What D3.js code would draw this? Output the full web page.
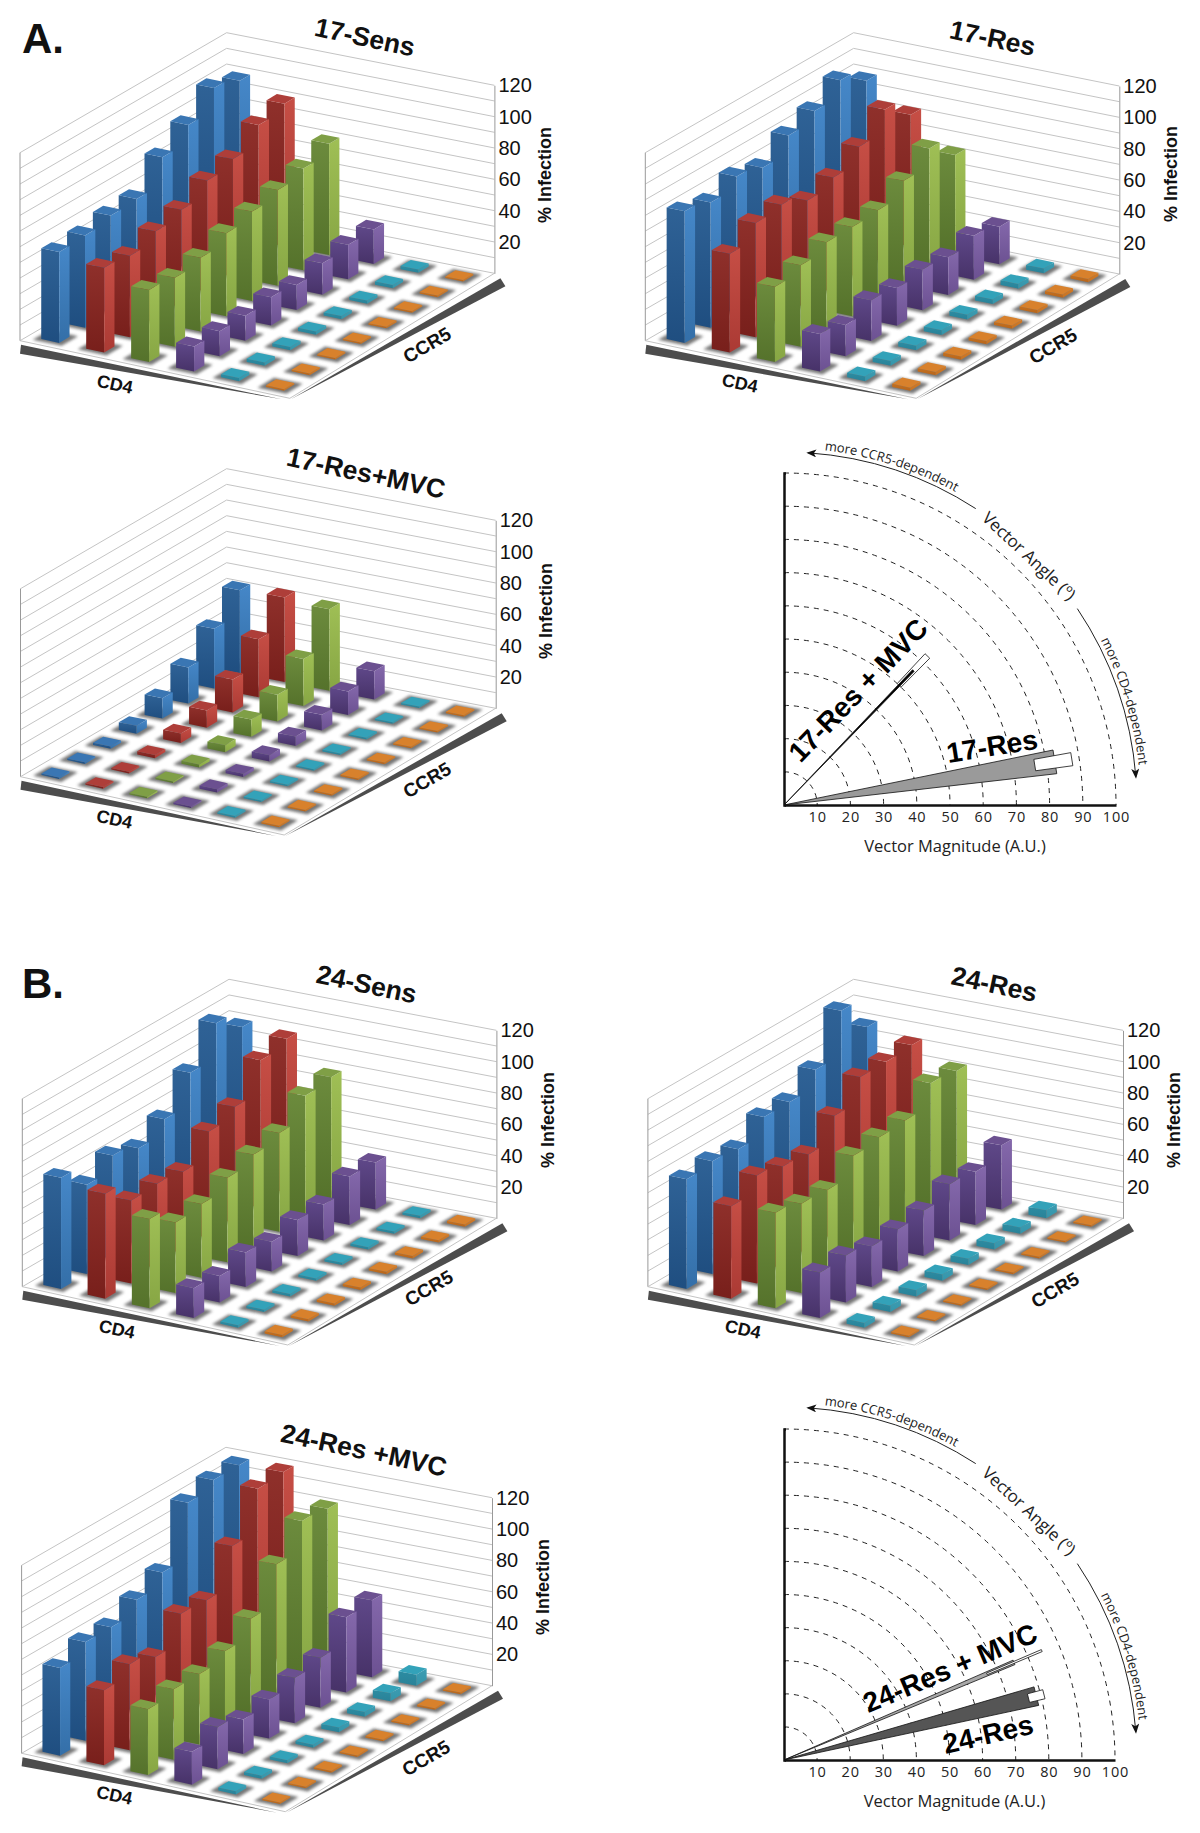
<!DOCTYPE html>
<html lang="en">
<head>
<meta charset="utf-8">
<title>CD4 / CCR5 infection surfaces</title>
<script src="https://d3js.org/d3.v7.min.js"></script>
<style>
  html, body { margin: 0; padding: 0; background: #fff; }
  svg { display: block; }
  text { font-family: "Liberation Sans", Arial, sans-serif; fill: #111; }
  .title { font-size: 26.5px; font-weight: bold; text-anchor: middle; }
  .axlabel { font-size: 19px; font-weight: bold; text-anchor: middle; }
  .letter { font-size: 42px; font-weight: bold; }
  .polar text { font-family: "Open Sans", sans-serif; fill: #222; }
  .vec { font-size: 28px; font-weight: bold; text-anchor: middle; fill: #000; }
</style>
</head>
<body>
<div id="container"></div>
<script>
// rows run along the CD4 edge, columns along the CCR5 edge
var rows = ['r1', 'r2', 'r3', 'r4', 'r5', 'r6'];
var cols = ['c1', 'c2', 'c3', 'c4', 'c5', 'c6', 'c7', 'c8'];
var infectionTicks = [20, 40, 60, 80, 100, 120];
var wallLines = [0, 10, 20, 30, 40, 50, 60, 70, 80, 90, 100, 110, 120];
var magnitudeTicks = [10, 20, 30, 40, 50, 60, 70, 80, 90, 100];

var sens17 = [
  [58, 59, 62, 63, 80, 91, 105, 100],
  [54, 52, 58, 62, 71, 75, 87, 91],
  [46, 44, 47, 53, 57, 61, 65, 71],
  [16, 16, 16, 18, 16, 20, 22, 22],
  [2, 2, 2, 2, 2, 2, 2, 2],
  [1, 1, 1, 1, 1, 1, 1, 1]
];
var res17 = [
  [84, 80, 87, 83, 94, 100, 110, 100],
  [63, 73, 75, 68, 73, 83, 97, 84],
  [48, 52, 57, 57, 58, 67, 78, 64],
  [24, 20, 26, 24, 26, 24, 28, 24],
  [3, 3, 3, 3, 3, 3, 3, 3],
  [2, 2, 2, 2, 2, 2, 2, 2]
];
var res17mvc = [
  [1, 1, 1.5, 5, 13, 23, 38, 53],
  [1, 1, 2, 6, 11, 21, 37, 54],
  [1, 1, 2, 4.5, 11, 17, 30, 52],
  [1, 2, 2, 4, 6, 10, 15, 18],
  [1, 1, 1, 1, 1, 1, 1, 1],
  [1, 1, 1, 1, 1, 1, 1, 1]
];
var sens24 = [
  [71, 57, 66, 61, 70, 90, 112, 100],
  [67, 53, 54, 52, 68, 74, 94, 98],
  [57, 45, 47, 54, 59, 63, 77, 79],
  [19, 17, 22, 19, 23, 23, 31, 30],
  [1.5, 1.5, 1.5, 1.5, 1.5, 1.5, 1.5, 1.5],
  [1.5, 1.5, 1.5, 1.5, 1.5, 1.5, 1.5, 1.5]
];
var res24 = [
  [70, 72, 70, 81, 81, 92, 120, 100],
  [59, 69, 65, 63, 78, 93, 93, 94],
  [61, 57, 56, 68, 70, 71, 85, 83],
  [29, 30, 26, 27, 29, 36, 34, 41],
  [3, 4, 4, 4, 4, 4, 4, 5],
  [1, 1, 1, 1, 1, 1, 1, 1]
];
var res24mvc = [
  [56, 63, 63, 71, 79, 114, 119, 119],
  [48, 55, 50, 68, 67, 92, 119, 120],
  [42, 45, 45, 50, 61, 86, 104, 102],
  [21, 27, 22, 25, 29, 32, 48, 49],
  [2, 2, 2, 2, 3, 3, 5, 7],
  [1, 1, 1, 1, 1, 1, 1, 1]
];

// polar vectors: degrees and magnitude units
var vectorNames17 = ['17-Res', '17-Res + MVC'];
var vectorAngle17 = [9.05, 46.1];
var vectorSpread17 = [2.5, 0.35];
var vectorMag17 = [82.7, 56.2];
var vectorBoxLow17 = [76.5, 50];
var vectorBoxHigh17 = [87.8, 62.3];
var vectorBoxSpread17 = [1.3, 0.9];

var vectorNames24 = ['24-Res', '24-Res + MVC'];
var vectorAngle24 = [14.2, 23];
var vectorSpread24 = [2.1, 0.55];
var vectorMag24 = [78.7, 75.5];
var vectorBoxLow24 = [76.2, 66.6];
var vectorBoxHigh24 = [81, 84.6];
var vectorBoxSpread24 = [1, 0.22];

var palette = [
  {top: '#3a76b3', l0: '#2f6296', l1: '#1f4e80', r0: '#4587c8', r1: '#346fa8'},
  {top: '#ae3e39', l0: '#8f302b', l1: '#781f1b', r0: '#c64e45', r1: '#ab3a34'},
  {top: '#7f9f46', l0: '#6c8b3d', l1: '#55722b', r0: '#9fbf55', r1: '#87a644'},
  {top: '#6b5090', l0: '#5f4889', l1: '#473268', r0: '#8468ab', r1: '#6c5192'},
  {top: '#33a2b9', l0: '#2c8ca2', l1: '#2a8298', r0: '#3c9cb2', r1: '#3595aa'},
  {top: '#d8812c', l0: '#c4701f', l1: '#b8661c', r0: '#d07a28', r1: '#c87322'}
];

var panels = [
  {name: '17-Sens', data: sens17, L: [20, 340.7], R: [494.4, 273.3], B: [226.6, 220.7], F: [289.8, 398.3],
   title: [365, 37], cd4: [115, 384], ccr5: [427, 345], inf: [545, 175]},
  {name: '17-Res', data: res17, L: [645.3, 340.7], R: [1119.3, 274], B: [853.6, 220.7], F: [916.2, 398.3],
   title: [992.6, 38], cd4: [740, 383], ccr5: [1053, 346], inf: [1171, 174]},
  {name: '17-Res+MVC', data: res17mvc, L: [20.5, 776.7], R: [495.7, 708.3], B: [226.6, 656.7], F: [284.2, 835],
   title: [366, 473], cd4: [114.4, 819], ccr5: [427, 780], inf: [545.8, 611]},
  {name: '24-Sens', data: sens24, L: [22.3, 1286.7], R: [496.4, 1218.3], B: [229, 1167.3], F: [287.8, 1345],
   title: [366.7, 984], cd4: [116.9, 1329], ccr5: [428.8, 1288], inf: [547.6, 1120]},
  {name: '24-Res', data: res24, L: [647.9, 1286.7], R: [1123, 1218.3], B: [853.6, 1167.3], F: [914.3, 1345],
   title: [994.4, 984], cd4: [743, 1329], ccr5: [1055, 1290], inf: [1174, 1120]},
  {name: '24-Res +MVC', data: res24mvc, L: [21.6, 1753.3], R: [492, 1685.7], B: [225.9, 1635.3], F: [285.3, 1811.7],
   title: [364, 1450], cd4: [114.4, 1795], ccr5: [426, 1758], inf: [542.9, 1587]}
];

var svg = d3.select('#container').append('svg').attr('width', 1200).attr('height', 1833);
var defs = svg.append('defs');

defs.append('filter').attr('id', 'soft').attr('x', '-40%').attr('y', '-40%').attr('width', '180%').attr('height', '180%')
    .append('feGaussianBlur').attr('stdDeviation', 1.5);
defs.append('marker').attr('id', 'arrow').attr('viewBox', '0 0 10 8').attr('refX', 8).attr('refY', 4)
    .attr('markerWidth', 10).attr('markerHeight', 8).attr('markerUnits', 'userSpaceOnUse').attr('orient', 'auto')
    .append('path').attr('d', 'M0,0L10,4L0,8L2.5,4Z').attr('fill', '#111');

palette.forEach(function(c, i){
  [['l', c.l0, c.l1], ['r', c.r0, c.r1]].forEach(function(f){
    var g = defs.append('linearGradient').attr('id', f[0] + i).attr('x1', 0).attr('y1', 0).attr('x2', 0).attr('y2', 1);
    g.append('stop').attr('offset', 0).attr('stop-color', f[1]);
    g.append('stop').attr('offset', 1).attr('stop-color', f[2]);
  });
});

var uScale = d3.scaleBand().domain(rows).range([0, 1]).paddingInner(0.6).paddingOuter(0.3);
var vScale = d3.scaleBand().domain(cols).range([0, 1]).paddingInner(0.6).paddingOuter(0.3);
var zScale = d3.scaleLinear().domain([0, 120]).range([0, -188]);
var line = d3.line();

function drawPanel(p){
  var g = svg.append('g');
  // floor is slightly off a parallelogram so blend the four corners
  function pt(a, b, z){
    var x = p.L[0]*(1-a)*(1-b) + p.F[0]*a*(1-b) + p.B[0]*(1-a)*b + p.R[0]*a*b;
    var y = p.L[1]*(1-a)*(1-b) + p.F[1]*a*(1-b) + p.B[1]*(1-a)*b + p.R[1]*a*b;
    return [x, y + zScale(z || 0)];
  }
  var grid = g.append('g');
  wallLines.forEach(function(z){
    grid.append('path').attr('fill', 'none').attr('stroke', '#c4c4c4').attr('stroke-width', 1)
        .attr('d', line([pt(0, 0, z), pt(0, 1, z), pt(1, 1, z)]));
  });
  grid.append('path').attr('stroke', '#999').attr('stroke-width', 1).attr('d', line([pt(0, 0, 0), pt(0, 0, 120)]));
  g.append('path').attr('fill', 'none').attr('stroke', '#c4c4c4').attr('d', line([pt(0, 0, 0), pt(1, 0, 0), pt(1, 1, 0)]));

  // base bands
  g.append('path').attr('fill', '#4d4d4d').attr('d', line([
    [p.L[0]+1, p.L[1]+4], [p.L[0], p.L[1]+13], [p.F[0]-8, p.F[1]+1]]) + 'Z');
  g.append('path').attr('fill', '#4d4d4d').attr('d', line([
    [p.R[0]+6, p.R[1]+5], [p.R[0]+11, p.R[1]+13], [p.F[0]+1, p.F[1]+1]]) + 'Z');

  var w = uScale.bandwidth(), d = vScale.bandwidth();
  var cells = [];
  rows.forEach(function(r, i){
    for (var j = cols.length - 1; j >= 0; j--) {
      cells.push({i: i, u0: uScale(r), v0: vScale(cols[j]), val: p.data[i][j]});
    }
  });

  g.append('g').selectAll('path').data(cells).enter().append('path')
      .attr('fill', '#5f5f5f').attr('opacity', 0.85).attr('filter', 'url(#soft)')
      .attr('d', function(c){
        var a = w*0.3, b = d*0.3;
        return line([pt(c.u0-a, c.v0-b), pt(c.u0+w+a, c.v0-b), pt(c.u0+w+a, c.v0+d+b), pt(c.u0-a, c.v0+d+b)]) + 'Z';
      });

  var bars = g.append('g').selectAll('g').data(cells).enter().append('g');
  bars.append('path').attr('fill', function(c){ return 'url(#l' + c.i + ')'; })
      .attr('d', function(c){
        return line([pt(c.u0, c.v0, c.val), pt(c.u0+w, c.v0, c.val), pt(c.u0+w, c.v0, 0), pt(c.u0, c.v0, 0)]) + 'Z';
      });
  bars.append('path').attr('fill', function(c){ return 'url(#r' + c.i + ')'; })
      .attr('d', function(c){
        return line([pt(c.u0+w, c.v0, c.val), pt(c.u0+w, c.v0+d, c.val), pt(c.u0+w, c.v0+d, 0), pt(c.u0+w, c.v0, 0)]) + 'Z';
      });
  bars.append('path').attr('fill', function(c){ return palette[c.i].top; })
      .attr('d', function(c){
        return line([pt(c.u0, c.v0, c.val), pt(c.u0+w, c.v0, c.val), pt(c.u0+w, c.v0+d, c.val), pt(c.u0, c.v0+d, c.val)]) + 'Z';
      });

  // value axis sits on the right hand wall edge
  var ax = g.append('g').attr('transform', 'translate(' + p.R[0] + ',' + p.R[1] + ')')
      .call(d3.axisRight(zScale).tickValues(infectionTicks).tickSize(0).tickPadding(4));
  ax.select('.domain').attr('stroke', '#999');
  ax.selectAll('text').attr('font-family', '"Liberation Sans", Arial, sans-serif').attr('font-size', 20).attr('fill', '#111');

  g.append('text').attr('class', 'title').text(p.name)
      .attr('transform', 'translate(' + p.title + ') rotate(12)').attr('dy', '0.35em');
  g.append('text').attr('class', 'axlabel').text('CD4').style('font-size', '18px')
      .attr('transform', 'translate(' + p.cd4 + ') rotate(12)').attr('dy', '0.35em');
  g.append('text').attr('class', 'axlabel').text('CCR5')
      .attr('transform', 'translate(' + p.ccr5 + ') rotate(-30)').attr('dy', '0.35em');
  g.append('text').attr('class', 'axlabel').text('% Infection').style('font-size', '18px')
      .attr('transform', 'translate(' + p.inf + ') rotate(-90)').attr('dy', '0.35em');
}

panels.forEach(drawPanel);

svg.append('text').attr('class', 'letter').attr('x', 22).attr('y', 53).text('A.');
svg.append('text').attr('class', 'letter').attr('x', 22).attr('y', 998).text('B.');

function drawPolar(o, radius, id, names, angle, spread, mag, boxLow, boxHigh, boxSpread, fills, labels){
  var g = svg.append('g').attr('class', 'polar').attr('transform', 'translate(' + o + ')');
  var rScale = d3.scaleLinear().domain([0, 100]).range([0, radius]);
  var rDown = d3.scaleLinear().domain([0, 100]).range([0, -radius]);
  function xy(r, deg){
    var t = deg * Math.PI / 180;
    return [rScale(r) * Math.cos(t), -rScale(r) * Math.sin(t)];
  }
  function arc(rad, from, to){
    var q = d3.path(), s = Math.PI / 180;
    q.arc(0, 0, rad, (from - 90) * s, (to - 90) * s, to < from);
    return q.toString();
  }

  magnitudeTicks.forEach(function(m){
    g.append('path').attr('fill', 'none').attr('stroke', '#222').attr('stroke-width', 1)
        .attr('stroke-dasharray', '5,5').attr('d', arc(rScale(m), 0, 90));
  });

  var xAx = g.append('g').call(d3.axisBottom(rScale).tickValues(magnitudeTicks).tickSize(0).tickPadding(7));
  xAx.select('.domain').attr('stroke', '#111').attr('stroke-width', 2.5);
  xAx.selectAll('text').attr('font-family', '"Open Sans", sans-serif').attr('font-size', 14.5)
      .attr('letter-spacing', 0.8).attr('fill', '#222');
  var yAx = g.append('g').call(d3.axisLeft(rDown).tickValues(magnitudeTicks).tickSize(-2).tickFormat(''));
  yAx.select('.domain').attr('stroke', '#111').attr('stroke-width', 2.5);
  yAx.selectAll('.tick line').attr('stroke', '#111');

  g.append('text').attr('x', radius / 2 + 5).attr('y', 47).attr('text-anchor', 'middle')
      .attr('font-size', 16.5).text('Vector Magnitude (A.U.)');
  g.append('text').attr('transform', 'translate(245,-249) rotate(43)').attr('text-anchor', 'middle')
      .attr('dy', '0.35em').attr('font-size', 17).text('Vector Angle (º)');

  var hint = 353;
  g.append('path').attr('fill', 'none').attr('stroke', '#222').attr('marker-end', 'url(#arrow)')
      .attr('d', arc(hint, 32.9, 3.95));
  g.append('path').attr('fill', 'none').attr('stroke', '#222').attr('marker-end', 'url(#arrow)')
      .attr('d', arc(hint, 56.2, 85.4));
  defs.append('path').attr('id', id + 'up').attr('d', arc(357, 6.5, 34));
  defs.append('path').attr('id', id + 'down').attr('d', arc(357, 62.5, 89.5));
  g.append('text').attr('font-size', 13).append('textPath').attr('href', '#' + id + 'up').text('more CCR5-dependent');
  g.append('text').attr('font-size', 13).append('textPath').attr('href', '#' + id + 'down').text('more CD4-dependent');

  names.forEach(function(n, i){
    var wedge = function(sel){
      sel.append('path').attr('fill', fills[i]).attr('stroke', '#111').attr('stroke-width', 0.8)
          .attr('d', line([[0, 0], xy(mag[i], angle[i] + spread[i]), xy(mag[i], angle[i] - spread[i])]) + 'Z');
    };
    var box = function(sel){
      sel.append('path').attr('fill', '#fff').attr('stroke', '#111').attr('stroke-width', 0.8)
          .attr('d', line([xy(boxLow[i], angle[i] + boxSpread[i]), xy(boxHigh[i], angle[i] + boxSpread[i]),
                           xy(boxHigh[i], angle[i] - boxSpread[i]), xy(boxLow[i], angle[i] - boxSpread[i])]) + 'Z');
    };
    // the narrower of the two goes on top
    if (spread[i] < boxSpread[i]) { g.call(box); g.call(wedge); } else { g.call(wedge); g.call(box); }
    svg.append('text').attr('class', 'vec').text(n)
        .attr('transform', 'translate(' + labels[i][0] + ',' + labels[i][1] + ') rotate(' + labels[i][2] + ')')
        .attr('dy', '0.35em');
  });
}

drawPolar([784, 805], 332, 'a', vectorNames17, vectorAngle17, vectorSpread17, vectorMag17, vectorBoxLow17, vectorBoxHigh17, vectorBoxSpread17,
  ['#9a9a9a', '#000'], [[992, 746, -9], [858, 690, -46]]);
drawPolar([784, 1760], 331, 'b', vectorNames24, vectorAngle24, vectorSpread24, vectorMag24, vectorBoxLow24, vectorBoxHigh24, vectorBoxSpread24,
  ['#555', '#a8a8a8'], [[988, 1734, -13], [950, 1668, -23]]);
</script>
</body>
</html>
